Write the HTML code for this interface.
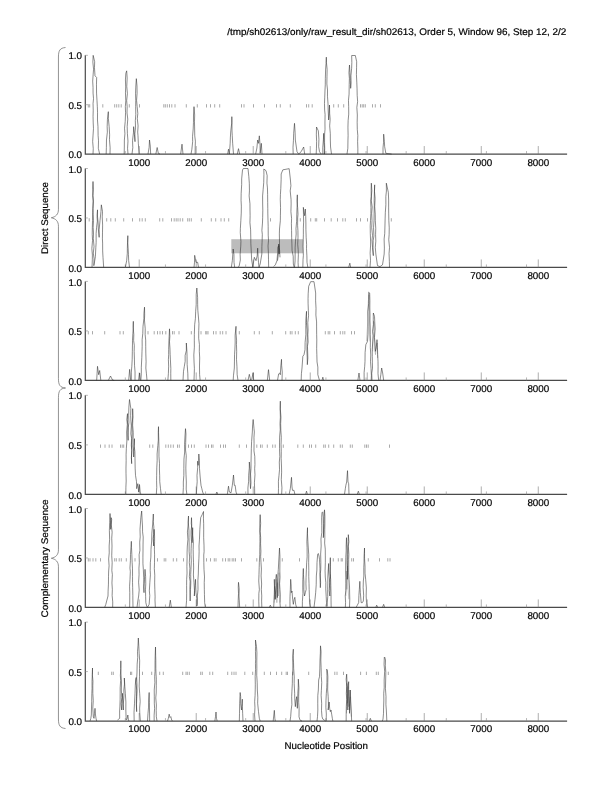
<!DOCTYPE html>
<html><head><meta charset="utf-8"><title>plot</title>
<style>
html,body{margin:0;padding:0;background:#fff;}
body{width:612px;height:792px;overflow:hidden;}
svg{display:block;will-change:transform;}
text{font-family:"Liberation Sans",sans-serif;font-size:9.8px;text-rendering:geometricPrecision;fill:#000;stroke:#000;stroke-width:0.2px;}
</style></head><body>
<svg width="612" height="792" viewBox="0 0 612 792">
<text x="227.2" y="35" textLength="339.2" lengthAdjust="spacingAndGlyphs" style="font-size:9.6px">/tmp/sh02613/only/raw_result_dir/sh02613, Order 5, Window 96, Step 12, 2/2</text>
<rect x="231.3" y="239.2" width="71.9" height="14.1" fill="#bcbcbc"/>
<g id="p0">
<path d="M88.3 104.2V107.5M89.7 104.2V107.5M102.8 104.2V107.5M114.7 104.2V107.5M116.7 104.2V107.5M118.8 104.2V107.5M121.2 104.2V107.5M129.3 104.2V107.5M139.5 104.2V107.5M163.8 104.2V107.5M165.3 104.2V107.5M167.3 104.2V107.5M169.5 104.2V107.5M171.8 104.2V107.5M175 104.2V107.5M186.3 104.2V107.5M197.3 104.2V107.5M206.5 104.2V107.5M210.5 104.2V107.5M214.7 104.2V107.5M219.7 104.2V107.5M241.5 104.2V107.5M244 104.2V107.5M253.5 104.2V107.5M264.5 104.2V107.5M276.5 104.2V107.5M280.3 104.2V107.5M290.3 104.2V107.5M306.5 104.2V107.5M308.7 104.2V107.5M312.2 104.2V107.5M333.7 104.2V107.5M338.3 104.2V107.5M343.7 104.2V107.5M360.5 104.2V107.5M362.2 104.2V107.5M363.7 104.2V107.5M365.3 104.2V107.5M372.5 104.2V107.5M375.3 104.2V107.5M380.5 104.2V107.5" stroke="#aaa" stroke-width="1" fill="none"/>
<path d="M85.3 55.3V154.05H567.1" stroke="#4a4a4a" stroke-width="1.2" fill="none"/>
<path d="M85.3 55.3h2.6M85.3 104.68h2.6" stroke="#888" stroke-width="0.6" fill="none"/>
<path d="M139.21 154.05v-8M196.22 154.05v-8M253.23 154.05v-8M310.24 154.05v-8M367.25 154.05v-8M424.26 154.05v-8M481.27 154.05v-8M538.28 154.05v-8" stroke="#777" stroke-width="0.6" fill="none"/>
<path d="M125.32 154.05v-3M165.44 154.05v-3M205.56 154.05v-3M245.68 154.05v-3M285.8 154.05v-3M325.92 154.05v-3M366.04 154.05v-3M406.16 154.05v-3M446.28 154.05v-3M486.4 154.05v-3M526.52 154.05v-3" stroke="#888" stroke-width="0.6" fill="none"/>
<path d="M93 154.05L93.26 148.66L92.66 141.52L93 135.87L93.47 128.47L93.21 122.99L93.05 116.32L93.22 110.2L93.05 103.46L93.52 98.61L93.07 93.1L93.04 87.43L92.7 81.08L93.11 74.83L93.55 69.16L92.86 62.12L93.17 55.33L94.67 61.67L94.48 67.73L95 75.83L96.67 77.5L96.47 84.23L96.56 93.15L96.98 100.22L97.33 106.67L97.54 112.69L97.48 120.01L97.98 126.69L98.11 135.63L98.5 140.77L98.33 148.33L99.67 154.05M106.17 154.05L106.38 147.37L106.47 139.99L107.35 132.12L107.17 126.67L107.43 119.62L108.33 111.67L108.37 118.54L109.17 126.67L109.64 134.82L109.47 139.62L110.13 147.81L110 154.05M124.17 154.05L124.34 147.02L124.36 140.09L124.91 133.84L124.56 128.21L125.23 121.39L125.56 112.7L125.33 106.67L125.79 100.8L125.46 92.8L125.69 86.94L125.43 79.96L125.83 73.33L126.67 70.83L127.17 77.9L126.77 86.42L127.4 93.65L126.66 100.58L127.17 106.67L127.02 113.01L127.75 119.08L127.19 126.4L127.38 133.43L127.97 141.11L127.57 148.32L128 154.05M132 154.05L132.8 147.69L132.54 140.47L133.45 132.73L133.67 126.67L134.43 134.53L135 141.67L134.9 133.6L135.51 127.76L135.34 120.6L135.79 114.68L135.67 106.67L135.75 100.49L135.55 93.8L135.75 87.11L136.33 78.67L136.99 85.98L137.1 93.2L136.57 100.27L137.17 106.67L137.81 113.43L137.3 118.66L138.08 125.88L137.69 132.07L137.99 135.75L138.33 143.33L139.17 154.05M148 154.05L149.14 147.41L149.5 140L150.3 146.09L150.67 154.05M155.83 154.05L157.17 147.5L158.33 153.33L160 154.05M180.67 154.05L182 144.17L183 154.05M191 154.05L191.87 149.27L192.67 141.67L192.56 136.42L193.19 129.01L193.46 122.46L193.5 115L194 106.67L194.67 115L194.48 121.86L194.6 126.94L194.75 135.9L195.4 141.18L195.19 146.82L195.17 154.05M227.67 154.05L228.5 149.17L229.33 154.05L230.17 143.33L230.39 137.1L230.81 130.8L231.71 123.18L231.83 116.67L231.96 122.34L232 130.98L232.24 135.39L232.67 143.33L233.5 154.05M237.33 154.05L238.5 148.67L239.67 154.05M255.67 154.05L256.88 148.08L257.67 140L258.5 143.33L259.33 135.83L260.07 145.35L260.17 153.33L261.33 143.33L262 154.05M293.17 154.05L293.01 147.27L293.44 140.36L293.67 133.33L294.5 123.33L295.1 132.23L295.33 140L297 151.67L298.67 154.05L301.17 151.67L303.67 147L304.67 154.05M316.17 154.05L316.44 148.83L316.61 141.49L316.35 134.83L316.5 127L318.33 130.83L318.92 139.29L318.67 146.67L319.5 151.67L321.17 154.05M322.83 154.05L322.74 147.82L323.4 139.48L323.67 133.33L323.78 141.17L324.26 147.06L324.33 154.05L324.5 154.05L324.73 148.62L324.55 142.67L324.6 134.1L325.03 129.35L324.94 123.07L325.08 114.41L324.64 110.08L324.48 103.62L324.71 97.86L325 90L325.27 84.86L325.35 78.26L325.63 69.03L326.06 63.54L326.33 57.17L326.44 62.61L327.14 69.42L326.97 76.61L326.86 83.91L327.5 90L327.47 96.22L327.98 103.14L328.17 110L328.67 120L329.09 113.98L329.5 105L329.66 113.37L330.15 119.4L329.66 125.88L330.31 133.55L330.33 140L330.55 147L331.5 154.05M347 154.05L347.83 148.33L347.96 139.98L348.1 135.68L347.94 127.15L348.14 120.6L348.72 114.12L348.67 106.67L348.47 100.37L349.07 94.11L349.21 84.62L349.39 78.4L348.95 72.77L349.5 65L349.94 72.58L350.33 80.42L350.67 88.33L351.12 83.22L350.93 75.88L351.63 68.26L351.83 62.44L351.67 55.5L355.33 55.5L356.67 61.67L356.58 67.29L356.41 74.56L356.79 82.13L357.06 88.77L357.2 95.38L357.61 101.6L356.85 107.38L357.33 115L357.17 122.25L357.3 129.6L357.82 135.61L357.61 141.4L357.85 148.85L357.83 154.05M383 154.05L383.01 147.88L383.55 142.38L383.67 134.17L384.35 141.34L384.67 146.67L385.83 153.33L391.67 154.05" stroke="#2c2c2c" stroke-width="0.55" fill="none" stroke-linejoin="miter"/>
<text x="82" y="59" text-anchor="end">1.0</text>
<text x="82" y="109" text-anchor="end">0.5</text>
<text x="82" y="158" text-anchor="end">0.0</text>
<text x="139.21" y="166" text-anchor="middle">1000</text>
<text x="196.22" y="166" text-anchor="middle">2000</text>
<text x="253.23" y="166" text-anchor="middle">3000</text>
<text x="310.24" y="166" text-anchor="middle">4000</text>
<text x="367.25" y="166" text-anchor="middle">5000</text>
<text x="424.26" y="166" text-anchor="middle">6000</text>
<text x="481.27" y="166" text-anchor="middle">7000</text>
<text x="538.28" y="166" text-anchor="middle">8000</text>
</g>
<g id="p1">
<path d="M89.2 218.2V221.5M106.7 218.2V221.5M110.8 218.2V221.5M115.3 218.2V221.5M123.7 218.2V221.5M132.5 218.2V221.5M139.7 218.2V221.5M142.2 218.2V221.5M145.3 218.2V221.5M159.7 218.2V221.5M162.8 218.2V221.5M171.5 218.2V221.5M174.2 218.2V221.5M176.2 218.2V221.5M178 218.2V221.5M180.2 218.2V221.5M182.7 218.2V221.5M187.7 218.2V221.5M189.3 218.2V221.5M191.3 218.2V221.5M201.3 218.2V221.5M211.3 218.2V221.5M215.7 218.2V221.5M221 218.2V221.5M224.3 218.2V221.5M228.7 218.2V221.5M270.5 218.2V221.5M300.3 218.2V221.5M310.7 218.2V221.5M315.3 218.2V221.5M316.7 218.2V221.5M324.5 218.2V221.5M331.2 218.2V221.5M337.5 218.2V221.5M342.8 218.2V221.5M345.3 218.2V221.5M356.5 218.2V221.5M360.5 218.2V221.5M367.5 218.2V221.5M391.3 218.2V221.5" stroke="#aaa" stroke-width="1" fill="none"/>
<path d="M85.3 168.5V267.45H567.1" stroke="#4a4a4a" stroke-width="1.2" fill="none"/>
<path d="M85.3 168.5h2.6M85.3 217.97h2.6" stroke="#888" stroke-width="0.6" fill="none"/>
<path d="M139.21 267.45v-8M196.22 267.45v-8M253.23 267.45v-8M310.24 267.45v-8M367.25 267.45v-8M424.26 267.45v-8M481.27 267.45v-8M538.28 267.45v-8" stroke="#777" stroke-width="0.6" fill="none"/>
<path d="M125.32 267.45v-3M165.44 267.45v-3M205.56 267.45v-3M245.68 267.45v-3M285.8 267.45v-3M325.92 267.45v-3M366.04 267.45v-3M406.16 267.45v-3M446.28 267.45v-3M486.4 267.45v-3M526.52 267.45v-3" stroke="#888" stroke-width="0.6" fill="none"/>
<path d="M92 267.33L92.34 259.34L92.38 255.09L91.85 248.54L92.54 240.39L92.24 234.45L92.34 227.55L92.5 220.67L92.68 212.79L92.88 208.24L93.13 201.73L92.97 195.27L92.64 188.03L93 181.5L93.44 189.31L92.73 195.69L93.37 200.8L93 208.7L93.2 214.42L93.5 220.67L93.17 227.26L93.5 232.94L93.34 238.56L94.03 246.7L93.29 253.05L94.03 258.34L93.83 265.67L94.17 264L95.39 256.69L95.83 247.33L96.15 242.55L96.14 233.45L96.55 227.63L97.35 221.18L97.09 217.17L97.5 209.83L97.36 214.99L98.07 222.19L98.33 229L99.17 237.33L99.15 229.51L100 220.67L100.97 211.41L101.33 204.83L102.5 211.5L102.24 216.91L102.62 225.05L102.5 232.13L102.42 238.89L102.61 243.09L102.66 250.96L103 257.33L103.67 267.33M125.33 267.33L126.67 260.67L127.31 253.24L127.35 248.25L127.52 242.77L127.83 235.67L127.82 243.12L128.1 247.84L128.46 254.54L128.67 260.67L129.5 267.33M194 267.33L194.52 262.28L194.67 255.33L196 262.33L197.67 262.33L198.5 267.33M231.33 267.33L232.33 260.67L233.17 249L233.95 254.55L234 262.33L234.67 267.33M238 267.33L239.17 266L240.33 260L240.13 254.25L240.76 246.15L240.93 241.44L240.27 232.62L240.39 228.32L240.83 220.67L241.25 213.08L241.35 206.1L241.05 200.25L241.17 193.33L241.68 184.42L241.66 178.95L242.5 170L243.33 168.5L248 168.5L248.83 176.67L249.32 183.34L249.45 190.89L249.14 195.89L249.96 203.78L250 210L250.12 215.59L249.94 222.67L250.61 229.84L250.79 237.95L250.83 243.33L251.24 250.94L251.67 260L252.83 267.33M252.67 267.33L254.33 257.33L256 260.67L257.19 255.81L257.67 248.17L258.05 256.47L258.5 262.33L259 267.33M259 267.33L260.17 264L261.83 254L261.88 246.63L262.06 242.77L262.32 234.39L261.89 230.38L262.48 223.05L262.66 217.68L262.81 210.2L262.67 204L262.6 195.97L263.17 189.34L263.73 182.67L263.91 174.51L263.83 169L266 170.67L267.17 175.67L266.94 183.2L267.44 187.93L267.62 194.57L267.7 202.55L267.77 208.44L267.83 213.94L268 220.67L268.18 226.49L268.22 235.17L268.5 240.23L268.04 245.98L268.4 253.11L268.5 259.78L268.67 267.33M273.67 266.5L275.33 264.83L277 260.67L277.64 252.86L277.83 247.33L278.67 245.67L279.17 254L279.39 247.46L279.51 242.92L279.37 233.94L279.5 229L280.33 220.67L280.41 215.18L280.55 207.68L280.28 199.48L280.41 194.67L280.79 188.51L281.15 179.37L281.17 174L282.83 169.83L289.17 168.67L290.33 179L290.92 185.76L290.21 190.87L291.07 199.6L291.14 203.93L290.92 211.72L291.58 218.41L291.4 223.75L291.58 230.56L291.67 237.33L291.87 243.1L292.08 250.59L293.19 256.19L293.33 264L294.17 267.33M277.5 260.67L278.53 253.12L278.67 244L279.55 250.13L280 257.33M294.5 267.33L295.08 260.95L295.16 252.56L295.12 247.79L295.45 241.82L296.17 234L295.99 228.46L296.63 221.3L296.83 212.99L297.05 207.35L297.45 201.1L297.33 194.83L296.99 201.05L297.66 207.8L298.01 214.21L297.66 217.94L297.61 225.75L297.93 230.58L298 237.33L297.71 244.24L298.17 249.6L298.35 254.89L298.07 262.32L298.33 267.33M302.83 267.33L303.03 259.7L303.37 255.32L303.04 246.13L303.24 239.39L303.36 234.22L303.37 228.19L303.62 222.11L303.48 214.7L303.33 207.33L304.5 215.67L305.33 209L305.71 216.35L305.9 223L305.91 229.44L306.17 237.33L306.6 244.38L306.5 248.47L306.88 255.86L307 262.33L307.83 267.33M348.67 267.33L349.83 263.17L350.67 267.33M370 267.33L370.51 260.42L370.14 253.19L370.54 245.96L370.61 241.95L370.31 233.52L370.21 225.95L370.5 220.67L370.86 213.5L370.95 207.33L370.7 201.73L371.2 196.58L371.17 188.95L371.33 183.17L371.84 190.63L371.43 195.82L371.27 200.63L372.19 206.98L371.7 213.41L372 220.67L371.7 227.53L372.53 235.43L372 239.94L372.5 247.33L373.33 255.67L373.03 248.97L373.2 240.68L373.9 235.92L373.55 227.55L374 220.67L374.1 213.76L374.29 205.41L374.17 200.45L374.46 190.79L374.67 184.83L374.49 191.46L375.1 198.29L374.72 206.66L375.26 214.19L375.33 220.67L375.74 228.34L375.58 234.7L375.81 241.18L375.3 247.32L375.83 254L377.5 265.67L380 266.67L382.5 264.83L384.17 254L384.38 248.07L384.12 239.03L384.72 233.6L384.95 225.97L385.15 218.1L385.33 212.33L385.86 204.74L385.84 196.57L386.41 191L386.33 183.17L388.33 192.33L388.65 200.04L388.63 207.91L388.69 213.1L388.83 220.67L389.24 227.81L389.14 234.63L388.75 239.72L389.52 247.5L389.05 253.45L389.36 261.33L389.5 267.33" stroke="#2c2c2c" stroke-width="0.55" fill="none" stroke-linejoin="miter"/>
<text x="82" y="173" text-anchor="end">1.0</text>
<text x="82" y="222" text-anchor="end">0.5</text>
<text x="82" y="272" text-anchor="end">0.0</text>
<text x="139.21" y="279" text-anchor="middle">1000</text>
<text x="196.22" y="279" text-anchor="middle">2000</text>
<text x="253.23" y="279" text-anchor="middle">3000</text>
<text x="310.24" y="279" text-anchor="middle">4000</text>
<text x="367.25" y="279" text-anchor="middle">5000</text>
<text x="424.26" y="279" text-anchor="middle">6000</text>
<text x="481.27" y="279" text-anchor="middle">7000</text>
<text x="538.28" y="279" text-anchor="middle">8000</text>
</g>
<g id="p2">
<path d="M88.3 331.1V334.4M92.5 331.1V334.4M104.7 331.1V334.4M120 331.1V334.4M123.3 331.1V334.4M148 331.1V334.4M154.2 331.1V334.4M157.5 331.1V334.4M160 331.1V334.4M162.5 331.1V334.4M165.8 331.1V334.4M172.5 331.1V334.4M174.2 331.1V334.4M179 331.1V334.4M191.3 331.1V334.4M201 331.1V334.4M205.7 331.1V334.4M206.8 331.1V334.4M208 331.1V334.4M213.5 331.1V334.4M216 331.1V334.4M220.2 331.1V334.4M222.7 331.1V334.4M226 331.1V334.4M239.3 331.1V334.4M254.3 331.1V334.4M259.3 331.1V334.4M272.3 331.1V334.4M285.7 331.1V334.4M290.3 331.1V334.4M292 331.1V334.4M295.3 331.1V334.4M298.3 331.1V334.4M325.3 331.1V334.4M328.2 331.1V334.4M329.8 331.1V334.4M334.5 331.1V334.4M340.3 331.1V334.4M342.8 331.1V334.4M344.8 331.1V334.4M351.5 331.1V334.4M354.5 331.1V334.4" stroke="#aaa" stroke-width="1" fill="none"/>
<path d="M85.3 281.4V380.45H567.1" stroke="#4a4a4a" stroke-width="1.2" fill="none"/>
<path d="M85.3 281.4h2.6M85.3 330.92h2.6" stroke="#888" stroke-width="0.6" fill="none"/>
<path d="M139.21 380.45v-8M196.22 380.45v-8M253.23 380.45v-8M310.24 380.45v-8M367.25 380.45v-8M424.26 380.45v-8M481.27 380.45v-8M538.28 380.45v-8" stroke="#777" stroke-width="0.6" fill="none"/>
<path d="M125.32 380.45v-3M165.44 380.45v-3M205.56 380.45v-3M245.68 380.45v-3M285.8 380.45v-3M325.92 380.45v-3M366.04 380.45v-3M406.16 380.45v-3M446.28 380.45v-3M486.4 380.45v-3M526.52 380.45v-3" stroke="#888" stroke-width="0.6" fill="none"/>
<path d="M366.67 341.33L367.67 323L368.33 301.33L369 294.67L369.5 318L370 341.33M372.67 351.33L373.5 321.33L374.17 323L374.67 346.33L375.5 354.67L376.33 346.33L377.17 343L377.67 358" stroke="#a0a0a0" stroke-width="0.6" fill="none"/>
<path d="M96.67 380.45L97.1 373.18L97.5 366.33L98.67 374.67L99.67 370.5L100.83 380.45M108.33 380.45L110.5 376L112.5 380L114.17 380.45M128.67 380.45L129.67 369.33L130.67 380.45M131.33 380.45L131.33 372.1L131.82 366.29L132.19 359.25L132.33 351.33L132.48 343.98L132.49 340.2L132.86 333.53L133.29 328.1L133.33 321.33L133.2 327.23L133.8 334.64L133.64 340.53L134.31 345.41L134.17 351.33L134.45 359.93L134.53 365.28L135.06 372.01L135 380.45M138.67 380.45L139.67 373L140.33 380.45M140.83 380.45L141.32 373.64L141.32 367.23L141.81 357.59L142 351.33L142.18 346.45L142.13 339.76L142.79 333.48L143 326.33L143.88 318.7L143.93 313.5L144.5 307.17L144.66 315.06L144.44 319.96L145.23 328.75L145.17 334.67L145.7 340.11L145.73 346.53L145.83 353.86L146.08 361.73L145.83 368L146.39 373.22L147 380.45M167.83 380.45L168.39 373.72L168.65 366.16L168.4 359.74L168.67 354.67L168.67 349.58L168.94 340.39L169.18 335.92L169.5 328.83L169.86 336.25L169.49 341.79L169.93 347.98L170.17 354.67L170.42 359.93L170.83 368.56L170.75 373.45L170.83 380.45M183 380.45L183.5 371.33L184.33 366.33L185.17 361.33L185.13 355.45L186.35 350.51L186.33 343L186.92 351.62L187.07 356.85L187.17 364.67L187.81 373.29L188 380.45M194 380.45L194.2 374.86L194.4 368.67L194.05 362.07L193.82 354.97L194.36 347.2L194.32 340.85L194.33 334.67L194.67 324.67L195.41 318.36L195.67 311.33L196.2 304.53L196.2 294.51L196.83 288L197.6 297.33L197.67 304.67L197.84 310.34L198.5 318L198.95 323.7L198.74 330.62L198.7 338.3L199.41 344.47L199.33 351.33L199.69 358.01L199.49 365.99L199.6 374.56L200.17 380.45M233.17 380.45L233.51 375.26L234.33 368L234.45 361.95L234.54 354.73L234.9 349.14L235.17 343L235.14 335.21L236 326.33L236 333.1L236.58 340.14L236.48 344.6L236.67 351.33L236.5 359.35L236.94 366.78L237.17 374.67L238 380.45M248 380.45L249.33 374.33L250.67 380L251.83 378.83L253.17 372.67L253.67 380.45M267.33 380.45L268.5 369.67L269.67 380.45M277.5 380.45L278.67 373.83L279.5 373L280.33 374.67L280.83 366.01L281.5 359.33L281.61 365.27L282.26 372L282 380.45M301.17 380.45L301.42 373.68L302 368L302.83 356.33L304 354.67L305 349.67L305.12 342.37L305.83 334.67L305.81 325.4L305.96 318.96L306.5 311.33L306.46 316.28L306.43 322.69L307.12 329.93L307.22 337.42L307 343L306.91 350.82L307.23 357.87L307.33 364.67L307.83 358.09L307.67 351.99L307.46 346.32L308.14 342.08L307.83 334.67L308.08 329.92L307.79 322.61L308.57 315.75L308.34 310.16L308.09 303.28L308.06 298.7L308.18 293.71L308.67 286.33L310.67 281.67L314 281.67L315.67 293L315.61 300.74L316.02 308.25L315.88 315.04L316.59 321.93L316.6 326.98L316.67 334.67L316.79 339.92L316.66 348.61L316.83 354.51L317.04 361.96L317.85 367.1L317.83 374.67L319.5 380.45M322 380.45L322.83 377.17L323.67 380.45M357.83 380.45L359 373L360 380.45M364.17 380.45L364.1 372.62L364.7 366.35L365 361.33L365.1 352.48L365.83 344.67L367.5 341.33L368.02 334.13L368.15 326.81L368 318L367.83 311.55L368.65 303.7L368.76 299.26L368.67 292.17L369.67 293L369.89 300.61L369.82 307.9L370.01 315.13L369.94 320.89L370.15 327.08L370.17 334.67L370.4 340.75L370.34 347.65L370.77 355.04L370.5 361.33L371.02 368.34L371.38 375.55L371.17 380.45M372 380.45L371.73 373.24L372.53 368.13L372.36 362.2L372.29 356.32L372.24 349.2L372.67 343L373.21 335.75L372.55 331.47L373.41 324.59L373.27 319.52L373.33 313L374.5 316.33L374.83 323.9L375.15 328.96L374.47 337.48L375 343L375.33 351.33L376.17 348L377 339.67L377.44 347.22L377.67 354.67L378 361.33L378.09 366.85L378.01 373.7L378.67 380.45M380 380.45L380.83 374.67L381.67 368L382.67 373L383.67 380.45" stroke="#2c2c2c" stroke-width="0.55" fill="none" stroke-linejoin="miter"/>
<text x="82" y="286" text-anchor="end">1.0</text>
<text x="82" y="335" text-anchor="end">0.5</text>
<text x="82" y="385" text-anchor="end">0.0</text>
<text x="139.21" y="392" text-anchor="middle">1000</text>
<text x="196.22" y="392" text-anchor="middle">2000</text>
<text x="253.23" y="392" text-anchor="middle">3000</text>
<text x="310.24" y="392" text-anchor="middle">4000</text>
<text x="367.25" y="392" text-anchor="middle">5000</text>
<text x="424.26" y="392" text-anchor="middle">6000</text>
<text x="481.27" y="392" text-anchor="middle">7000</text>
<text x="538.28" y="392" text-anchor="middle">8000</text>
</g>
<g id="p3">
<path d="M100.5 444.5V447.8M105 444.5V447.8M109.2 444.5V447.8M112 444.5V447.8M120.5 444.5V447.8M122.2 444.5V447.8M123.7 444.5V447.8M149.7 444.5V447.8M152.8 444.5V447.8M165.8 444.5V447.8M168.3 444.5V447.8M170.8 444.5V447.8M173.3 444.5V447.8M177.5 444.5V447.8M179.3 444.5V447.8M188.5 444.5V447.8M191.5 444.5V447.8M194.3 444.5V447.8M206 444.5V447.8M208.5 444.5V447.8M211.5 444.5V447.8M213 444.5V447.8M220.5 444.5V447.8M223.5 444.5V447.8M225.5 444.5V447.8M239.3 444.5V447.8M246.5 444.5V447.8M256.8 444.5V447.8M260.5 444.5V447.8M262.2 444.5V447.8M267.3 444.5V447.8M272.7 444.5V447.8M275.2 444.5V447.8M283.3 444.5V447.8M297.8 444.5V447.8M303.3 444.5V447.8M309.5 444.5V447.8M311.5 444.5V447.8M315.7 444.5V447.8M323.7 444.5V447.8M325.3 444.5V447.8M328.7 444.5V447.8M333.7 444.5V447.8M340.3 444.5V447.8M342.3 444.5V447.8M350.3 444.5V447.8M352.3 444.5V447.8M364.8 444.5V447.8M366.5 444.5V447.8M368.2 444.5V447.8M389.5 444.5V447.8" stroke="#aaa" stroke-width="1" fill="none"/>
<path d="M85.3 395.3V494.45H567.1" stroke="#4a4a4a" stroke-width="1.2" fill="none"/>
<path d="M85.3 395.3h2.6M85.3 444.88h2.6" stroke="#888" stroke-width="0.6" fill="none"/>
<path d="M139.21 494.45v-8M196.22 494.45v-8M253.23 494.45v-8M310.24 494.45v-8M367.25 494.45v-8M424.26 494.45v-8M481.27 494.45v-8M538.28 494.45v-8" stroke="#777" stroke-width="0.6" fill="none"/>
<path d="M125.32 494.45v-3M165.44 494.45v-3M205.56 494.45v-3M245.68 494.45v-3M285.8 494.45v-3M325.92 494.45v-3M366.04 494.45v-3M406.16 494.45v-3M446.28 494.45v-3M486.4 494.45v-3M526.52 494.45v-3" stroke="#888" stroke-width="0.6" fill="none"/>
<path d="M125.83 494.17L125.9 487.25L126.18 481.01L126.01 473.24L125.97 468.09L126.15 460.43L126.08 454.68L126.33 448.67L126.86 440.99L126.67 432L127.3 424.49L126.98 419.89L127.5 413.67L127.27 419.52L127.89 425.5L127.9 432.26L128.17 440.33L128.06 435.27L128.31 427.14L128.91 422.65L128.67 415.33L128.86 407.2L129.5 399.5L130.83 408.67L130.64 415.57L130.96 421.7L131.31 425.9L130.84 433.84L131.58 438.27L131.33 445.33L131.77 450.55L131.41 457.97L131.67 463.67L131.45 457.37L131.81 449.79L131.57 444.46L132.07 438.36L132.17 432L131.94 424.02L132.93 417.07L132.67 408.67L132.61 415.25L132.77 420.88L132.63 425.17L133.25 432.55L133.17 438.67L132.93 446.28L133.61 450.09L133.67 457L133.95 451.8L134.2 445.4L134.5 438.67L134.22 446.24L134.9 451.57L135 458.67L135.17 468.12L135.5 475.33L136.48 481.41L136.67 488.67L137.83 483.67L138.67 492L139.5 484.5L140.17 492L140.83 494.17M156.33 494.17L156.74 487.38L156.59 480.29L156.67 475.33L156.79 467.81L157.17 460.33L157.1 454.06L157.83 445.33L158.29 440.32L158.28 431.95L158.5 426.67L158.56 432.71L158.84 441.25L159 448.67L158.96 456.17L159.49 463.44L159.41 468.99L159.67 475.33L159.77 481.67L160.5 488.67L161.17 494.17M183 494.17L183.36 487.52L183.33 482L183.84 475.38L183.83 468.67L183.96 459.13L184.67 452L184.55 444.55L185 435.93L185.5 428.67L185.95 433.94L185.68 442.53L185.55 450.06L186.25 455.75L186 462L185.83 468.07L186 474.55L186.33 482L186.2 489.15L186.83 494.17M196.33 494.17L196.79 486.48L197.18 481.7L197 475.33L197.68 467.7L197.67 461.17L198.17 465.33L198.83 454L199.44 460.24L199.5 468.67L200.17 477L201 485.33L201.83 488.67L202.67 492L203.5 494.17M216 494.17L216.83 492L217.67 494.17M227.33 494.17L228.5 486.17L229.33 492L231 492.83L232.33 485.33L233.5 475L234.33 485.33L235.17 485.33L236 492L236.83 494.17M248 494.17L247.92 487.99L248.62 481.3L248.67 475.33L249.29 468.13L249.33 462L250.06 470.14L250 478.67L250.5 488.67L250.98 482.66L250.55 473.97L251 468.67L251.02 462.87L251.18 455.9L251.33 448.67L251.6 441.57L252.33 432L252.62 424.87L253.17 419.5L254 428.67L254.33 432L253.98 437.35L254.07 443.43L253.98 450.9L254.78 456.4L254.95 464.4L254.67 468.77L254.97 474.78L254.41 482.77L254.61 488.83L254.67 494.17M278.33 494.17L278.49 488.48L278.42 481.26L279 475.33L279.52 469.76L279.32 462.11L279.8 456.51L279.5 448.67L279.5 442.09L279.68 435.96L280.24 429.85L280 423.67L280.37 417.12L280.13 408.37L280.33 401.17L280.4 409.86L280.95 417.2L280.67 423.67L280.85 430.75L281.31 437.37L281.06 444.73L281.27 451.6L281.17 458.67L281.54 467.02L281.61 472.13L281.3 479.66L281.94 487.77L281.67 494.17M289.17 494.17L290.33 488.67L291.5 477.33L292 487L292.5 490.33L294 490.33L294.83 494.17M305.67 494.17L306.5 491.17L307.33 494.17M344.5 494.17L345.33 488.67L345.83 485.33L346.67 482L347.5 470.67L348 482L348.67 483.67L349 494.17M357.33 494.17L358.33 491.17L359.33 494.17" stroke="#2c2c2c" stroke-width="0.55" fill="none" stroke-linejoin="miter"/>
<text x="82" y="399" text-anchor="end">1.0</text>
<text x="82" y="449" text-anchor="end">0.5</text>
<text x="82" y="499" text-anchor="end">0.0</text>
<text x="139.21" y="506" text-anchor="middle">1000</text>
<text x="196.22" y="506" text-anchor="middle">2000</text>
<text x="253.23" y="506" text-anchor="middle">3000</text>
<text x="310.24" y="506" text-anchor="middle">4000</text>
<text x="367.25" y="506" text-anchor="middle">5000</text>
<text x="424.26" y="506" text-anchor="middle">6000</text>
<text x="481.27" y="506" text-anchor="middle">7000</text>
<text x="538.28" y="506" text-anchor="middle">8000</text>
</g>
<g id="p4">
<path d="M88.3 558.2V561.5M90 558.2V561.5M93 558.2V561.5M95.8 558.2V561.5M100.5 558.2V561.5M114.7 558.2V561.5M116.3 558.2V561.5M119.2 558.2V561.5M121.3 558.2V561.5M126.3 558.2V561.5M135 558.2V561.5M157.5 558.2V561.5M164.2 558.2V561.5M165.8 558.2V561.5M173.3 558.2V561.5M176.7 558.2V561.5M183.5 558.2V561.5M206.5 558.2V561.5M210.5 558.2V561.5M214.3 558.2V561.5M216 558.2V561.5M222.7 558.2V561.5M225.5 558.2V561.5M228.2 558.2V561.5M229.8 558.2V561.5M232.2 558.2V561.5M233.8 558.2V561.5M235.5 558.2V561.5M241.5 558.2V561.5M256.8 558.2V561.5M263.5 558.2V561.5M282.3 558.2V561.5M299.5 558.2V561.5M333.3 558.2V561.5M338.3 558.2V561.5M341.2 558.2V561.5M342.3 558.2V561.5M351.7 558.2V561.5M353.5 558.2V561.5M368.3 558.2V561.5M379.5 558.2V561.5M387.8 558.2V561.5M390 558.2V561.5" stroke="#aaa" stroke-width="1" fill="none"/>
<path d="M85.3 508.5V607.45H567.1" stroke="#4a4a4a" stroke-width="1.2" fill="none"/>
<path d="M85.3 508.5h2.6M85.3 557.98h2.6" stroke="#888" stroke-width="0.6" fill="none"/>
<path d="M139.21 607.45v-8M196.22 607.45v-8M253.23 607.45v-8M310.24 607.45v-8M367.25 607.45v-8M424.26 607.45v-8M481.27 607.45v-8M538.28 607.45v-8" stroke="#777" stroke-width="0.6" fill="none"/>
<path d="M125.32 607.45v-3M165.44 607.45v-3M205.56 607.45v-3M245.68 607.45v-3M285.8 607.45v-3M325.92 607.45v-3M366.04 607.45v-3M406.16 607.45v-3M446.28 607.45v-3M486.4 607.45v-3M526.52 607.45v-3" stroke="#888" stroke-width="0.6" fill="none"/>
<path d="M274 602.67L274.67 586L275.33 599.33L276.17 579.33L276.83 602.67L277.67 582.67L278.33 596L279 572.67L279.67 589.33L280.17 602.67M345.83 596L346.33 571L346.83 589.33L347.5 566L348.17 589.33L348.83 599.33" stroke="#a0a0a0" stroke-width="0.6" fill="none"/>
<path d="M104.67 607.33L105.83 604.33L106.67 601L108 596L108.1 591.18L108.44 584.08L108.51 576.31L108.67 571L109.09 565.78L108.66 558.95L109.22 552.9L109.17 546L109.61 539.26L109.38 530.46L109.67 522.67L110 513.5L110.53 520.35L110.67 529.33L111.17 517.67L111.67 519.33L111.32 524.96L112.14 532.14L111.74 538.19L112 546L111.74 555.74L112.17 562.67L111.83 570.5L112.36 574.67L111.95 582.95L112.35 589.54L112.13 595.46L112.74 601.88L112.67 607.33M129.67 607.33L129.74 600.99L129.78 592.54L129.59 586.25L130 579.33L130.34 571.64L129.94 568.09L130.4 560.75L130.5 554.33L131.01 546.78L131.33 541.33L131.53 547.5L131.83 554.33L132.17 562.67L132.49 568.89L132.56 576.42L132.53 582.31L132.67 587.67L132.84 595.61L132.87 600.02L133 607.33M137 607.33L137.83 601L138.67 596L139.2 590.06L138.61 582.24L139.06 574.66L138.95 568.16L139.33 562.67L139.12 554.75L139.92 550.35L139.73 542.18L140.21 536.82L140 529.33L140.83 517.67L141.67 511L142.17 521L142.5 526L142.57 531.84L143.2 537.03L143.04 544.98L143 551L142.91 557.19L142.95 563.8L143.33 569.33L143.71 577.67L143.87 583.5L144 592.67L143.81 586.75L144.5 579.33L145 569.33L145.61 576.53L145.75 583.82L145.5 589.33L145.61 596.25L145.83 602.67L146.67 606L147.5 607.33M147.5 607.33L149.17 604.33L149.79 595.7L149.35 590.83L149.83 582.67L150.42 574.82L150.21 570.69L150.33 562.67L150.87 557.08L151 549.33L151.67 541L151.85 533.16L152.5 526L153.14 519.24L153.33 514L153.25 521.62L153.83 526.9L153.65 534.36L153.16 538.67L153.67 546L153.75 538.67L154.17 529.33L154.58 536.07L154.58 541.22L154.4 549.19L154.59 554.81L154.5 562.67L154.33 568.64L154.77 575.21L154.67 582.88L154.83 589.33L155.1 596.77L154.99 599.93L155.33 607.33M169.17 607.33L170.33 600.17L171.33 607.33M186 607.33L186.55 600.7L186.65 593.16L186.6 585.56L186.67 579.33L187.04 573.1L186.9 566.29L187.08 558.15L187.09 552.2L187.33 546L187.9 539.35L187.42 532.1L188 526L188.5 516L188.3 522.11L188.95 530.3L189 537.67L189.14 542.83L189.15 551.65L189.61 556.98L189.33 562.67L189.86 568.38L189.37 576.71L190.1 581.34L189.83 589.33L190.17 601L190.5 589.33L190.81 583.03L190.7 574.4L190.96 569.62L191.32 560.76L191 554.33L191.16 548.37L191.47 541.5L191.06 534.59L191.08 530.72L191.74 525.25L191.5 517.67L191.26 523.3L191.91 528.93L192.07 537.04L192.17 542.67L192.48 535.19L192.67 527.67L192.74 535.03L193.39 541.7L193.17 549.33L193.31 556.97L193.5 562.67L193.63 567.94L193.4 574.97L194 582.67L194.48 590.47L194.33 596L195 586L195.5 579.33L195.67 585.66L196 592.67L196.86 598.79L196.83 606L197.33 604.33L197.38 595.94L198 589.33L197.89 580.9L198.32 573.99L198.5 566L198.91 558.23L199.12 551.76L199 546L199.47 539.15L199.83 529.33L200.67 517.67L202.33 514.33L203.5 511.5L203.46 518.83L203.66 523.69L203.69 529.87L203.67 537.67L204 545.13L204.1 551.66L203.76 554.99L203.83 562.67L204 569.44L204.51 576.94L204.24 582.46L204.33 589.33L204.45 594.58L204.67 602.67L205.33 607.33M238 607.33L238.18 600.64L238.51 593.54L238.28 587.31L238.5 582.33L239.2 588.89L239 596L239.67 607.33M259 607.33L258.77 601.21L258.86 593.33L259.37 589.58L258.75 580.98L258.97 574.65L259.2 567.63L259.33 562.67L259.75 554.46L259.81 547.68L259.94 541.64L259.9 535.52L259.76 527.86L259.83 521L260.17 514.67L260.67 523.32L260.17 531.34L260.67 537.67L260.59 543.8L260.92 551.12L260.66 556.35L261 562.67L261.41 569.07L261.11 575.94L261.63 584.01L261.33 589.33L261.74 595.9L261.61 601.13L261.83 607.33M269.33 607.33L270.33 605.17L271.33 607.33M273.67 607.33L274.12 600.22L274.35 594.08L274.44 586.14L274.33 579.33L274.48 586.42L275.06 592.52L275.17 599.33L275.36 594.43L276.1 585.36L275.75 579.18L276.33 574.33L277.03 581.19L276.98 590.45L277.33 597.67L277.52 589.62L277.61 583.17L277.77 575.99L278.33 569.33L278.76 560.98L279.17 554.33L279.5 548L279.93 556.17L279.91 562.14L279.83 571L280.03 577.4L279.6 583.45L279.86 589.22L280.19 594.73L279.95 602.32L280.33 607.33M290 607.33L289.95 601.72L290.01 596.61L290.33 589.33L290.67 579.33L291.13 584.97L291.33 592.67L292 591L292.67 599.33L293.33 604.33L294.17 599.33L294.83 597.33L295.67 604.33L296.5 607.33M302.33 607.33L302.4 601.34L302.93 593.37L302.76 587.1L302.83 579.33L303.33 568.5L303.44 574.43L303.88 581.96L303.83 589.33L304.5 596L305.33 592.67L306.17 589.33L305.93 583.85L306.07 577.37L306.42 569.13L306.67 562.67L307.14 556.85L307.09 547.37L306.86 541.75L307.13 535.99L307.5 527.67L307.47 533.72L307.74 539.05L308.17 546L308.75 554.83L308.67 562.67L308.81 570.65L308.76 576.64L309.03 583.69L309.17 589.33L309.44 597.16L309.5 602.67L310.33 607.33M314 607.33L315 599.33L315.67 592.67L316.21 584.77L316.33 576L316.87 570.05L317 562.67L317.67 554.33L318.33 553.5L319 556L319.5 559.33L319.97 568.22L320 576L320.33 587.67L320.6 582.65L320.3 573.75L320.76 569.75L320.83 562.67L320.65 554.06L321.17 546L320.96 539.04L321.83 532.38L321.78 525.39L321.67 517.67L322 512.67L322.83 511.83L323.23 516.8L323.43 523.41L323.56 532.08L323.33 537.67L324 526L324.13 516.74L324.5 509.83L324.89 516.09L324.89 523.64L324.76 529.68L324.83 537.67L324.64 543.08L325.28 549.18L325.34 555.93L325.33 562.67L325.09 570.79L325.29 577.06L325.83 582.67L325.76 588.8L326.19 596.51L326.5 602.67L327 607.33M327 606L327.73 596.72L327.67 589.33L327.82 583.18L327.82 577.04L328.17 571L328.67 563.5L328.65 569.97L329.17 576L329.78 582.65L329.21 590.56L329.83 596L330.1 588.57L329.82 582.45L330.52 576.27L330.17 571L330.27 564.64L330.33 557.67L330.3 566.38L330.23 573.53L330.67 579.33L330.81 585.29L331.05 594.57L331.04 600.1L331.17 607.33M345.33 607.33L345.57 602.64L345.28 595.79L345.89 590.64L345.95 583.59L345.85 577.76L345.67 571L345.66 565.06L345.79 557.45L346.16 551.02L346.17 546L346.5 537.67L346.73 544.85L347.16 550.51L347.12 556.47L347 562.67L347.58 572.26L347.33 579.33L347.27 573.32L347.4 567.98L347.65 560.46L347.83 554.33L347.92 546.99L348.18 541.64L348.33 534.67L348.86 541.85L348.34 546.14L348.86 554.37L348.67 559.33L348.66 567.09L348.63 572.8L349 579.33L349.53 587.01L349.61 592.97L349.77 599.11L349.5 607.33M356.17 607.33L357.33 605.17L358.67 602.67L358.9 595.39L359.33 589.33L359.83 581.33L360.33 592.67L361.17 602.67L362.33 602.67L363.33 601L363.65 595.25L363.16 587.59L363.35 581.01L363.83 576L363.77 567.54L364.04 562.14L364.09 556.43L364.5 548L364.54 553.64L364.56 558.67L365 566L365.06 573.23L365.67 579.33L366.35 587.99L366.17 596L366.5 602.67L367.33 607.33M375.83 607.33L376.67 605.17L377.67 607.33M382.5 607.33L383.67 604.33L384.67 607.33" stroke="#2c2c2c" stroke-width="0.55" fill="none" stroke-linejoin="miter"/>
<text x="82" y="513" text-anchor="end">1.0</text>
<text x="82" y="562" text-anchor="end">0.5</text>
<text x="82" y="612" text-anchor="end">0.0</text>
<text x="139.21" y="619" text-anchor="middle">1000</text>
<text x="196.22" y="619" text-anchor="middle">2000</text>
<text x="253.23" y="619" text-anchor="middle">3000</text>
<text x="310.24" y="619" text-anchor="middle">4000</text>
<text x="367.25" y="619" text-anchor="middle">5000</text>
<text x="424.26" y="619" text-anchor="middle">6000</text>
<text x="481.27" y="619" text-anchor="middle">7000</text>
<text x="538.28" y="619" text-anchor="middle">8000</text>
</g>
<g id="p5">
<path d="M98.3 671.7V675M111.7 671.7V675M113.3 671.7V675M130.5 671.7V675M131.7 671.7V675M142.5 671.7V675M151.7 671.7V675M159.7 671.7V675M163.3 671.7V675M182.7 671.7V675M186 671.7V675M187.3 671.7V675M189.3 671.7V675M200.7 671.7V675M202.3 671.7V675M209.8 671.7V675M212.7 671.7V675M227.7 671.7V675M231.8 671.7V675M234 671.7V675M236 671.7V675M244.8 671.7V675M252.7 671.7V675M264.3 671.7V675M270.5 671.7V675M276.5 671.7V675M281.7 671.7V675M286.2 671.7V675M287.5 671.7V675M292.8 671.7V675M308.7 671.7V675M334.8 671.7V675M337 671.7V675M343.5 671.7V675M360.6 671.7V675M366.4 671.7V675M376.3 671.7V675M378.3 671.7V675M388.3 671.7V675" stroke="#aaa" stroke-width="1" fill="none"/>
<path d="M85.3 622.1V721.05H567.1" stroke="#4a4a4a" stroke-width="1.2" fill="none"/>
<path d="M85.3 622.1h2.6M85.3 671.58h2.6" stroke="#888" stroke-width="0.6" fill="none"/>
<path d="M139.21 721.05v-8M196.22 721.05v-8M253.23 721.05v-8M310.24 721.05v-8M367.25 721.05v-8M424.26 721.05v-8M481.27 721.05v-8M538.28 721.05v-8" stroke="#777" stroke-width="0.6" fill="none"/>
<path d="M125.32 721.05v-3M165.44 721.05v-3M205.56 721.05v-3M245.68 721.05v-3M285.8 721.05v-3M325.92 721.05v-3M366.04 721.05v-3M406.16 721.05v-3M446.28 721.05v-3M486.4 721.05v-3M526.52 721.05v-3" stroke="#888" stroke-width="0.6" fill="none"/>
<path d="M346.5 713.33L347 683.33L347.5 703.33L348 686.67L348.5 706.67L349.17 690L349.67 710L350.17 696.67L350.83 706.67L351.33 716.67" stroke="#a0a0a0" stroke-width="0.6" fill="none"/>
<path d="M90 721.05L90.83 718.33L91.33 715L91.48 708.98L91.7 701.68L91.83 693.33L92.07 688.48L92.04 681.15L92.32 674.55L92.5 668L92.42 675.26L92.94 681.15L92.82 685.63L92.83 693.33L93.25 700.63L92.8 708.09L93.33 716.67L94 718.33L94.5 713.33L95 708.33L95.5 715L96 718.33L96.67 721.05M117.5 720L118.67 719.17L119.67 718.33L119.61 710.95L119.89 706.96L120.13 699.26L120.17 693.33L120.17 687.87L120.63 680.46L120.36 675.12L120.85 668.38L120.83 660.83L120.76 668.42L121.04 674.91L121.49 683L121.33 690L121.89 697.65L121.12 703.66L121.67 710L122.17 700L122.5 693.33L123 703.33L123.33 710L123.31 704.23L123.95 695.73L123.83 690L124.47 684.11L124.33 678L124.83 686.67L125.33 693.33L125.89 702.06L125.83 710L126.17 720L127 719.17L127.83 715L128.33 719.17L128.83 721.05M134.17 721.05L134.02 712.33L134.5 703.33L135 693.33L135.3 685.29L135.67 680L136.17 677.5L135.94 682.59L136.75 690.2L136.5 696.67L136.3 703.69L136.67 711.67L136.5 704.38L136.72 698.21L136.9 693.04L137 685L136.68 678.14L136.97 672.97L137.17 664.17L137.73 657.45L137.5 651.67L138.01 645.37L138.33 638L138.83 646.67L139.17 653.33L139.67 660.78L139.5 668.49L139.5 676.67L139.18 686.05L139.67 693.33L140.18 701.54L139.65 708.08L139.74 712.83L140.33 721.05M147.5 721.05L148 713.33L148.54 707.13L148.67 700L149.17 692.5L149.42 702.69L149.5 710L149.67 721.05M154.17 721.05L154.13 715.19L154.6 708.37L154.32 703.21L154.3 696.3L154.23 690.03L154.88 682.46L154.67 676.67L155.03 671.46L155.05 662.06L155.17 656.67L155.5 647L155.63 655.28L155.81 660.19L155.83 668.33L156.02 673.84L156.34 679.25L156.3 685.76L156.21 693.03L155.77 697.83L156.38 704.94L156.21 710.32L156.33 716.67L157 721.05M167.5 721.05L168.33 718.33L169.17 714.17L170 717.5L170.83 716.67L171.67 720L172.5 721.05M214.83 721.05L215.5 716.67L216 712L216.5 718.33L217.17 721.05M239.33 721.05L239.53 713.27L239.67 703.33L240.17 692.5L240.67 696.67L240.69 703.77L241.5 710L242 703.33L242.33 699.17L242.39 706.69L242.67 713.33L243 721.05M255 721.05L254.58 714.94L254.95 707.2L254.66 701.6L255.08 695.6L255.24 689.75L255.3 684.19L255.17 676.67L255.56 669.37L255.45 663.3L255.63 659.82L255.46 651.7L255.53 646.31L255.5 640L256 643.33L256.5 646.67L256.91 652.85L256.79 660.91L256.83 668.33L256.73 675.23L257.2 682.27L257.33 690L257.81 697.24L257.67 703.33L258.5 711.67L259.33 718.33L260.17 721.05M273.17 721.05L273.83 715L274.33 710.33L274.83 718.33L275.33 721.05M290 721.05L290.67 716.67L291.17 710L291.87 704.61L291.67 696.67L291.93 691.17L292.33 683.33L292.41 676.75L292.81 670.03L292.83 665L292.7 658.42L293.33 649.17L293.19 655.7L293.52 662.11L293.67 668.33L294.24 676.91L294.17 683.33L294.67 693.33L294.72 698.57L295.33 706.67L296 700L296.67 696.67L297 703.33L297.33 708.33L297.6 701.08L297.83 693.33L298.24 687.07L298.33 679.17L298.91 687.68L298.67 696.67L298.69 702.43L299.11 708.54L299 716.67L299.67 719.17L300.33 720.33L302 721.05M317 721.05L317.5 716.67L317.83 710L317.75 703.29L317.81 695.53L318.33 690L318.67 680L319.5 676.67L319.82 668.91L320 660L320.35 653.04L320.5 645.83L321.07 651.44L320.83 660L321.12 667.69L321.33 676.67L321.73 682.57L321.36 690.59L321.14 695.28L321.67 703.33L321.51 710.61L322 716.67L322.83 719.17L324.5 720.33L325.67 721.05M326.17 721.05L326.33 714L325.86 707.34L325.99 700.25L326.33 693.33L326.73 687.57L326.94 682.27L326.98 675.57L326.67 669.17L327.33 670L327.87 676.8L327.77 682.61L327.67 690L328.18 696.47L328.44 704.03L328.17 710L328.67 706.67L329.17 702L329.67 708.33L330.33 711.67L331 710L331.67 714.17L332.33 718.33L332.83 721.05M346.17 721.05L346.18 714.26L346.32 706.62L346.68 699.58L346.33 693.33L346.77 686.42L346.15 679.29L346.67 674.17L347.06 683.2L347.17 690L347.49 695.96L347.59 703.11L347.83 710L347.9 703.52L348.17 696.67L348.03 689.28L348.67 681.67L348.67 689.18L349 696.67L349.52 706.31L349.5 713.33L349.83 703.33L350.2 696.11L350.33 690L350.67 700L351.17 710L351.67 721.05M369.17 721.05L370.33 718.33L371.33 721.05M382.33 721.05L383 719.17L383.5 713.33L383.6 707.09L383.83 700L383.72 693.33L384.21 687.61L384.17 680L384.66 671.2L384.05 664.41L384.33 657L384.83 657.5L385.5 660L385.34 665.77L385.84 672.39L385.67 680L385.44 688.33L386 696.67L385.93 704.74L386.33 710L386.83 721.05" stroke="#2c2c2c" stroke-width="0.55" fill="none" stroke-linejoin="miter"/>
<text x="82" y="626" text-anchor="end">1.0</text>
<text x="82" y="676" text-anchor="end">0.5</text>
<text x="82" y="725" text-anchor="end">0.0</text>
<text x="139.21" y="732" text-anchor="middle">1000</text>
<text x="196.22" y="732" text-anchor="middle">2000</text>
<text x="253.23" y="732" text-anchor="middle">3000</text>
<text x="310.24" y="732" text-anchor="middle">4000</text>
<text x="367.25" y="732" text-anchor="middle">5000</text>
<text x="424.26" y="732" text-anchor="middle">6000</text>
<text x="481.27" y="732" text-anchor="middle">7000</text>
<text x="538.28" y="732" text-anchor="middle">8000</text>
</g>
<path d="M65.5 47.5C59.95 48 58.45 50.5 58.45 57V209.25C58.45 214.25 55.95 216.75 51.3 217.75C55.95 218.75 58.45 221.25 58.45 226.25V378.5C58.45 385 59.95 387.5 65.5 388" stroke="#666" stroke-width="0.7" fill="none"/>
<path d="M65.5 388C59.95 388.5 58.45 391 58.45 397.5V549.75C58.45 554.75 55.95 557.25 51.3 558.25C55.95 559.25 58.45 561.75 58.45 566.75V719C58.45 725.5 59.95 728 65.5 728.5" stroke="#666" stroke-width="0.7" fill="none"/>
<text transform="translate(47.9,254) rotate(-90)" textLength="72" lengthAdjust="spacingAndGlyphs" style="font-size:9.5px">Direct Sequence</text>
<text transform="translate(47.9,617.4) rotate(-90)" textLength="118" lengthAdjust="spacingAndGlyphs" style="font-size:9.5px">Complementary Sequence</text>
<text x="284.6" y="749" textLength="83.3" lengthAdjust="spacingAndGlyphs">Nucleotide Position</text>
</svg>
</body></html>
